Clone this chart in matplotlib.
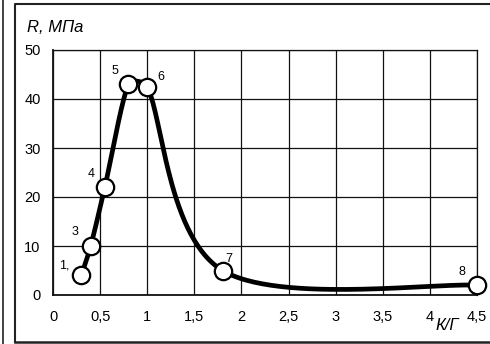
import numpy as np
import matplotlib.pyplot as plt
from matplotlib.lines import Line2D
from matplotlib.ticker import FixedLocator, FixedFormatter

plt.rcParams['font.family'] = ['Liberation Sans', 'DejaVu Sans']

# ratio K/G and strength R, MPa
k_g = [0.3, 0.4, 0.55, 0.8, 1.0, 1.8, 4.5]
r_mpa = [4, 10, 22, 43, 42.5, 5, 2]
point_labels = ['1,', '3', '4', '5', '6', '7', '8']
label_offsets = [(-12, 7), (-11, 10), (-10, 9.5), (-9.5, 9.5), (9.5, 7), (4.5, 8), (-11, 9.5)]

x_ticks = [0, 0.5, 1, 1.5, 2, 2.5, 3, 3.5, 4, 4.5]
x_tick_labels = ['0', '0,5', '1', '1,5', '2', '2,5', '3', '3,5', '4', '4,5']
y_ticks = [0, 10, 20, 30, 40, 50]

W, H = 490, 344
fig = plt.figure(figsize=(W / 100, H / 100), dpi=100)

# frame around the chart
fig.add_artist(Line2D([2.5 / W, 2.5 / W], [0, 1], color='#222222', lw=1.2))
fig.add_artist(Line2D([15 / W, 15 / W, 1], [2 / H, 340 / H, 340 / H],
                      color='#222222', lw=1.5))
fig.add_artist(Line2D([15 / W, 1], [2 / H, 2 / H], color='#222222', lw=1.8))

ax = fig.add_axes([53 / W, 1 - 295 / H, (477 - 53) / W, (295 - 50) / H])
ax.set_xlim(0, 4.5)
ax.set_ylim(0, 50)
ax.xaxis.set_major_locator(FixedLocator(x_ticks))
ax.xaxis.set_major_formatter(FixedFormatter(x_tick_labels))
ax.set_yticks(y_ticks)
ax.grid(True, color='#111111', lw=0.9)
ax.set_axisbelow(True)
for s in ax.spines.values():
    s.set_color('#111111')
    s.set_linewidth(0.9)
ax.spines['left'].set_linewidth(1.3)
ax.spines['bottom'].set_linewidth(1.3)
ax.tick_params(length=0, labelsize=10.5)
ax.tick_params(axis='x', pad=11)
ax.tick_params(axis='y', pad=9)

# smoothed line: cubic Bezier segments built in display space
pts = ax.transData.transform(np.column_stack([k_g, r_mpa]))
n = len(pts)
curve = []
t = np.linspace(0, 1, 60)[:, None]
for i in range(n - 1):
    p0 = pts[i - 1] if i > 0 else pts[i]
    p1, p2 = pts[i], pts[i + 1]
    p3 = pts[i + 2] if i + 2 < n else pts[i + 1]
    d12 = np.hypot(*(p2 - p1))
    v1 = (p2 - p0) / 6
    v2 = (p3 - p1) / 6
    for v in (v1, v2):
        L = np.hypot(*v)
        if L > d12 / 3:
            v *= (d12 / 3) / L
    c1 = p1 + v1
    c2 = p2 - v2
    seg = ((1 - t) ** 3) * p1 + 3 * ((1 - t) ** 2) * t * c1 + 3 * (1 - t) * t ** 2 * c2 + t ** 3 * p2
    curve.append(seg)
curve = ax.transData.inverted().transform(np.vstack(curve))

ax.plot(curve[:, 0], curve[:, 1], color='black', lw=3.4, solid_capstyle='round', zorder=3)
ax.plot(k_g, r_mpa, 'o', ms=12.5, mfc='white', mec='black', mew=1.6, zorder=4, clip_on=False)

for xv, yv, lab, off in zip(k_g, r_mpa, point_labels, label_offsets):
    ax.annotate(lab, (xv, yv), xytext=off, textcoords='offset points',
                ha='center', va='center', fontsize=9, zorder=5)

fig.text(27 / W, 1 - 28 / H, 'R, МПа', fontsize=12, style='italic', va='center', ha='left')
fig.text(447 / W, 1 - 325 / H, 'К/Г', fontsize=12, style='italic', va='center', ha='center')

fig.savefig('out.png', dpi=100)
